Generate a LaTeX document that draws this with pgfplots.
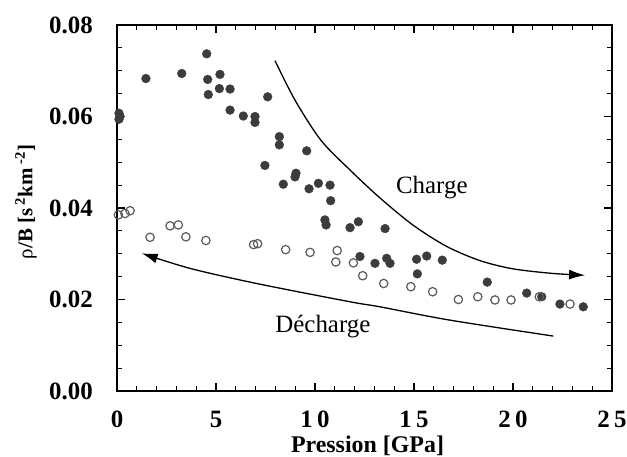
\documentclass[border=0pt]{standalone}
\usepackage{fontspec}
\setmainfont{Liberation Serif}
\usepackage{pgfplots}
\pgfplotsset{compat=1.18}
\usetikzlibrary{arrows.meta}
\definecolor{fillpt}{HTML}{3C3C3C}
\definecolor{openpt}{HTML}{5A5A5A}
\begin{document}
\begin{tikzpicture}
\useasboundingbox (0,0) rectangle (627bp,457bp);
\begin{axis}[
  at={(117bp,66bp)}, anchor=south west,
  scale only axis, width=495bp, height=366bp,
  xmin=0, xmax=25, ymin=0, ymax=0.08,
  clip=false,
  scaled y ticks=false, scaled x ticks=false,
  xtick={0,5,10,15,20,25},
  xticklabels={0,5,1\,0,1\,5,2\,0,2\,5},
  ytick={0,0.02,0.04,0.06,0.08},
  yticklabels={0.00,0.02,0.04,0.06,0.08},
  minor x tick num=4, minor y tick num=3,
  tick align=inside, major tick length=8bp, minor tick length=5bp,
  axis line style={line width=1.6bp},
  every tick/.style={black, line width=1.1bp},
  /pgf/number format/assume math mode=true,
  tick label style={font=\fontsize{25}{27}\selectfont\bfseries, inner sep=0pt},
  xticklabel style={anchor=center, yshift=-28bp},
  yticklabel style={anchor=east, xshift=-24bp},
  xlabel={Pression [GPa]},
  xlabel style={font=\fontsize{24}{26}\selectfont\bfseries, at={(axis description cs:0.5,0)}, anchor=center, yshift=-55bp, xshift=3bp},
  ylabel={\mdseries ρ\bfseries/B [s\,\textsuperscript{2}km\,\textsuperscript{-2}]},
  ylabel style={font=\fontsize{21}{23}\selectfont\bfseries, at={(axis description cs:0,0.5)}, anchor=center, xshift=6bp, yshift=91bp},
]
% Charge (filled)
\addplot[only marks, mark=*, mark size=4.4bp, mark options={fill=fillpt, draw=fillpt}] coordinates {
(0.1,0.0607) (0.1,0.0594) (0.15,0.0600)
(1.46,0.0683) (3.27,0.0694) (4.53,0.0737) (4.58,0.0681) (4.61,0.0648)
(5.2,0.0692) (5.17,0.0661) (5.71,0.0660) (5.71,0.0614) (6.38,0.0601)
(6.97,0.0600) (6.97,0.0587) (7.61,0.0643) (8.2,0.0556) (8.2,0.0538)
(7.47,0.0493) (9.58,0.0525) (8.4,0.0452) (9.04,0.0476) (8.99,0.0468)
(9.7,0.0442) (10.17,0.0454) (10.76,0.0450) (10.79,0.0416) (10.5,0.0374)
(10.56,0.0363) (11.77,0.0357) (12.19,0.0370) (13.54,0.0355) (12.27,0.0294)
(13.03,0.0279) (13.62,0.0290) (13.79,0.0279) (15.13,0.0288) (15.64,0.0295)
(16.43,0.0286) (15.17,0.0256) (18.7,0.0238) (20.69,0.0214) (21.45,0.0206)
(22.37,0.0190) (23.55,0.0184)
};
% Decharge (open)
\addplot[only marks, mark=o, mark size=4.2bp, mark options={draw=openpt, line width=1.2bp, fill=white}] coordinates {
(0.07,0.0385) (0.40,0.0388) (0.66,0.0394) (1.67,0.0336) (2.68,0.0361)
(3.10,0.0363) (3.48,0.0337) (4.49,0.0329) (6.9,0.0320) (7.1,0.0322)
(8.52,0.0309) (9.75,0.0303) (11.12,0.0307) (11.05,0.0282) (11.94,0.0280)
(12.41,0.0252) (13.47,0.0235) (14.84,0.0228) (15.94,0.0217) (17.24,0.0200)
(18.22,0.0206) (19.09,0.0199) (19.9,0.0199) (21.33,0.0206) (22.88,0.0190)
};
% Charge arrow
\addplot[smooth, black, line width=1.3bp, -{Latex[length=16bp,width=10bp]}] coordinates {
(7.98,0.0722) (9.0,0.0635) (10.3,0.0548) (11.77,0.0483) (13.28,0.0422) (14.97,0.0362)
(16.65,0.0316) (18.33,0.0285) (20.0,0.0267) (22.0,0.0257) (23.64,0.0253)
};
% Decharge arrow
\addplot[smooth, black, line width=1.3bp, -{Latex[length=16bp,width=10bp]}] coordinates {
(22.04,0.0120) (16.8,0.0155) (13.28,0.0184) (11.77,0.0195) (7.05,0.0235)
(3.69,0.0268) (1.25,0.0301)
};
\node[font=\fontsize{25}{27}\selectfont] at (axis cs:15.9,0.0444) {Charge};
\node[font=\fontsize{25}{27}\selectfont] at (axis cs:10.4,0.0140) {Décharge};
\end{axis}
\end{tikzpicture}
\end{document}
